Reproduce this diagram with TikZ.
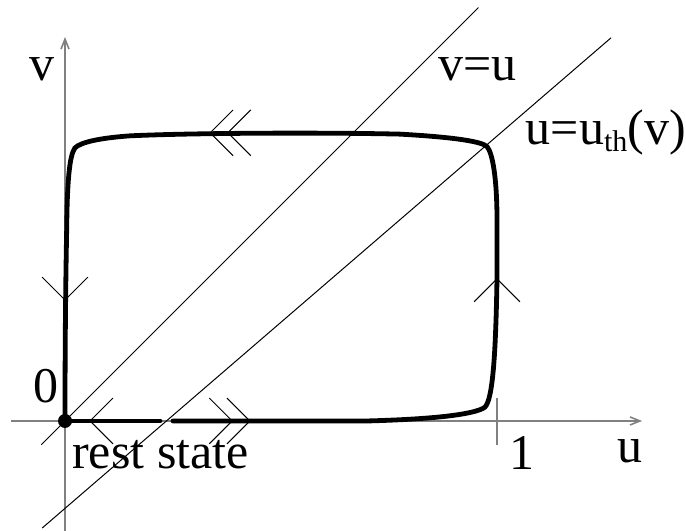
\documentclass[tikz,border=0pt]{standalone}
\usepackage{fontspec}
\setmainfont{Liberation Serif}
\usetikzlibrary{arrows.meta}

\begin{document}
\begin{tikzpicture}[x=216pt, y=216pt,
    font=\fontsize{25}{30}\selectfont,
    axis/.style={draw=black!50, line width=0.8pt},
    diag/.style={draw=black, line width=0.5pt},
    cycle/.style={draw=black, line width=2.4pt, line cap=round},
    chev/.style={draw=black, line width=0.5pt}]
  \useasboundingbox (-0.1505,-0.2546) rectangle (1.4375,0.9745);
  % --- eksenler ---
  \draw[axis, -{Straight Barb[length=5pt,width=4pt]}] (-0.125,0) -- (1.336,0);
  \draw[axis, -{Straight Barb[length=5pt,width=4pt]}] (0,-0.2546) -- (0,0.889);
  \draw[axis] (1,0.053) -- (1,-0.056);

  % --- v=u ve u=u_th(v) dogrulari ---
  \draw[diag] (-0.055,-0.055) -- (0.957,0.957);
  \draw[diag] (-0.053,-0.248) -- (1.264,0.887);

  % --- cevrim ---
  \coordinate (O) at (0,0);
  \draw[cycle] (O) -- (0.22,0);
  \draw[cycle] (0.25,0) -- (0.70,0)
    .. controls (0.85,0.004) and (0.95,0.015) .. (0.972,0.032)
    .. controls (0.99,0.05) and (0.997,0.15) .. (1.0,0.33)
    -- (1.0,0.465)
    .. controls (1.0,0.56) and (0.99,0.62) .. (0.977,0.635)
    .. controls (0.965,0.647) and (0.9,0.657) .. (0.775,0.664)
    .. controls (0.6,0.668) and (0.3,0.667) .. (0.15,0.66)
    .. controls (0.08,0.655) and (0.035,0.645) .. (0.023,0.632)
    .. controls (0.01,0.615) and (0.005,0.55) .. (0.004,0.45)
    .. controls (0.001,0.3) and (0,0.15) .. (O);
  \fill (O) circle[radius=3.5pt];

  % --- yon oklari (uc / iki kol) ---
  \foreach \tx/\ty/\dx/\dy in {0.058/0/0.053/0, 0.387/0/-0.053/0, 0.428/0/-0.053/0,
      0.336/0.667/0.053/0, 0.377/0.667/0.053/0, 0/0.28/0/0.053, 1.0/0.329/0/-0.053} {
    \draw[chev] ({\tx+\dx+abs(\dy)},{\ty+\dy+abs(\dx)}) -- (\tx,\ty)
                -- ({\tx+\dx-abs(\dy)},{\ty+\dy-abs(\dx)});
  }

  % --- etiketler ---
  \node[anchor=base] (lv) at (-0.054,0.789) {v};
  \node[anchor=base west, inner sep=0pt] (lvu) at (0.863,0.789) {v=u};
  \node[anchor=base west, inner sep=0pt] (luth) at (1.066,0.639)
    {u=u\raisebox{-3.5pt}{\fontsize{15}{15}\selectfont th}(v)};
  \node[anchor=base] (l0) at (-0.044,0.042) {0};
  \node[anchor=base west, inner sep=0pt] (lrest) at (0.016,-0.109) {rest state};
  \node[anchor=base] (l1) at (1.057,-0.113) {1};
  \node[anchor=base] (lu) at (1.308,-0.095) {u};
\end{tikzpicture}
\end{document}
